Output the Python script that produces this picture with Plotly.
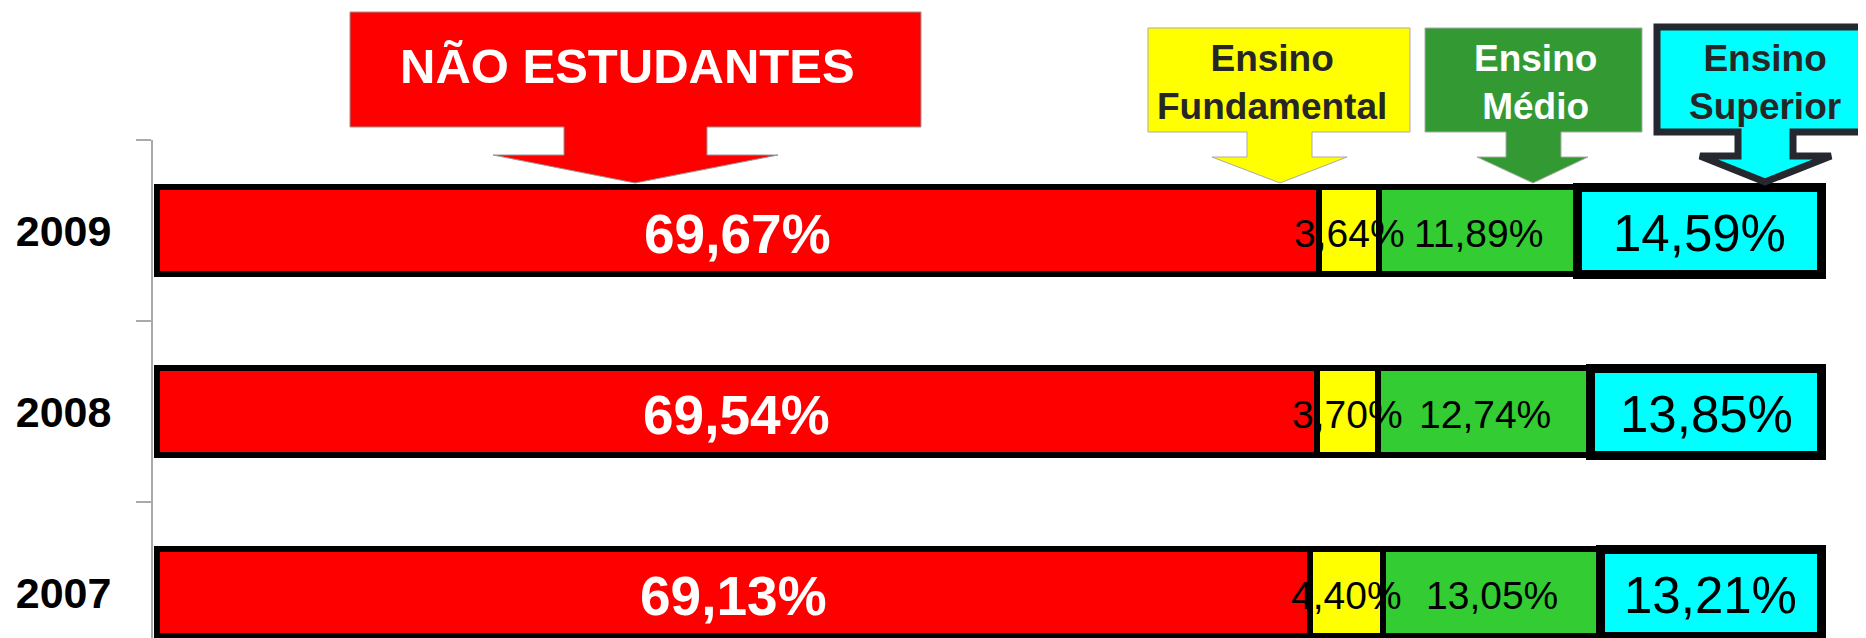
import plotly.graph_objects as go

# ---- data ----
years = ["2007", "2008", "2009"]
nao_estudantes = [69.13, 69.54, 69.67]
ens_fundamental = [4.40, 3.70, 3.64]
ens_medio = [13.05, 12.74, 11.89]
ens_superior = [13.21, 13.85, 14.59]

series_names = ["Não estudantes", "Ensino Fundamental", "Ensino Médio", "Ensino Superior"]
series_values = [nao_estudantes, ens_fundamental, ens_medio, ens_superior]
series_colors = ["#FF0000", "#FFFF00", "#33CC33", "#00FFFF"]
line_widths = [6, 6, 6, 9]
FONT = "Liberation Sans, Arial, sans-serif"
label_fonts = [
    dict(family=FONT, size=55, color="white", weight="bold"),
    dict(family=FONT, size=39, color="black"),
    dict(family=FONT, size=39, color="black"),
    dict(family=FONT, size=51, color="black"),
]

# page body has an 8px margin: figure is placed at (8, 8) in the window
OFF = 8
W, H = 1866 - OFF, 638 - OFF
ML, MR, MT, MB = 153 - OFF, 13, 140 - OFF, 0
PW, PH = W - ML - MR, H - MT - MB


def fmt(v):
    return f"{v:.2f}".replace(".", ",") + "%"


fig = go.Figure()

for name, vals, col, lw in zip(series_names, series_values, series_colors, line_widths):
    fig.add_trace(go.Bar(
        name=name, y=years, x=vals, orientation="h",
        marker=dict(color=col, line=dict(color="black", width=lw)),
        width=0.48, hoverinfo="skip", showlegend=False,
    ))

# labels centred on each segment (annotations sit above all bars);
# on a category axis annotations take the category index
bases = [0.0] * len(years)
for vals, font in zip(series_values, label_fonts):
    for i, (b, v) in enumerate(zip(bases, vals)):
        fig.add_annotation(x=b + v / 2, y=i, xref="x", yref="y", text=fmt(v),
                           showarrow=False, xanchor="center", yanchor="middle",
                           yshift=-3, font=font)
    bases = [b + v for b, v in zip(bases, vals)]


# ---- callout arrows (decoration), given in window pixels ----
def px(x):
    return (x - OFF - ML) / PW


def py(y):
    return (H - MB - (y - OFF)) / PH


def callout_path(bx0, bx1, by0, by1, sx0, sx1, hy, hx0, hx1, tx, ty):
    pts = [(bx0, by0), (bx1, by0), (bx1, by1), (sx1, by1), (sx1, hy), (hx1, hy),
           (tx, ty), (hx0, hy), (sx0, hy), (sx0, by1), (bx0, by1)]
    return "M " + " L ".join(f"{px(a):.5f},{py(b):.5f}" for a, b in pts) + " Z"


callouts = [
    dict(g=(350, 921, 12, 127, 564, 707, 155, 493, 778, 635, 183), fill="#FF0000", lc="#999999", lw=1),
    dict(g=(1148, 1410, 28, 132, 1247, 1312, 157, 1212, 1347, 1280, 183), fill="#FFFF00", lc="#aaaaaa", lw=1),
    dict(g=(1425, 1642, 28, 132, 1506, 1561, 157, 1477, 1588, 1533, 183), fill="#339933", lc="#aaaaaa", lw=1),
    dict(g=(1657, 1885, 27, 132, 1738, 1793, 156, 1700, 1831, 1765, 182), fill="#00FFFF", lc="#262830", lw=7),
]
for c in callouts:
    fig.add_shape(type="path", path=callout_path(*c["g"]), xref="paper", yref="paper",
                  fillcolor=c["fill"], line=dict(color=c["lc"], width=c["lw"]), layer="above")

texts = [
    ("NÃO ESTUDANTES", 627, 66, 49, "white"),
    ("Ensino<br>Fundamental", 1272, 82, 37, "#262626"),
    ("Ensino<br>Médio", 1535, 82, 37, "white"),
    ("Ensino<br>Superior", 1765, 82, 37, "#262626"),
]
for t, x, y, s, c in texts:
    fig.add_annotation(text=t, x=px(x), y=py(y), xref="paper", yref="paper",
                       showarrow=False, xanchor="center", yanchor="middle", align="center",
                       font=dict(family=FONT, size=s, color=c, weight="bold"))

fig.update_layout(
    barmode="stack",
    width=W, height=H, autosize=False,
    margin=dict(l=ML, r=MR, t=MT, b=MB, pad=0),
    paper_bgcolor="white", plot_bgcolor="white",
    xaxis=dict(range=[-0.24, -0.24 + PW / 16.675], visible=False, fixedrange=True),
    yaxis=dict(
        type="category", categoryorder="array", categoryarray=years,
        range=[-0.25, 2.5], tickson="boundaries", ticks="outside", ticklen=15,
        tickcolor="#aaaaaa", tickwidth=2, showline=True, linecolor="#aaaaaa", linewidth=2,
        showgrid=False, zeroline=False, ticklabelstandoff=31,
        tickfont=dict(family=FONT, size=43, color="black", weight="bold"),
        fixedrange=True,
    ),
)

fig.write_html("out.html")
